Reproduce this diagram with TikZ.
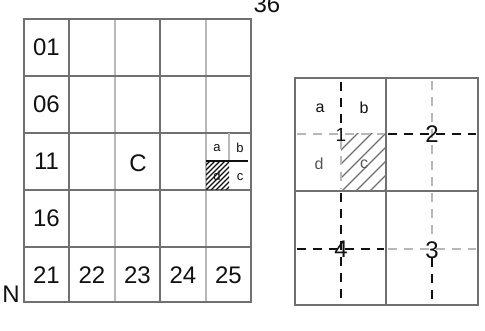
\documentclass[tikz,border=0pt]{standalone}
\usepackage{fontspec}
\setmainfont{Liberation Sans}
\usepackage{xcolor}
\usepackage{tikz}
\usetikzlibrary{positioning}
\definecolor{trait}{HTML}{707070}
\definecolor{traitclair}{HTML}{B8B8B8}
\definecolor{encre}{HTML}{111111}
\definecolor{grismoyen}{HTML}{555555}

\begin{document}
\begin{tikzpicture}[x=1pt, y=-1pt,
    chiffre/.style={font=\fontsize{24}{24}\selectfont, text=encre, inner sep=0pt},
    petit/.style={font=\fontsize{13}{13}\selectfont, text=encre, inner sep=0pt},
    moyen/.style={font=\fontsize{16}{16}\selectfont, text=encre, inner sep=0pt},
    tiret/.style={dash pattern=on 9pt off 7pt, line width=1.3pt}]
    \useasboundingbox (0,0) rectangle (485,331);
    % Grille de gauche
    \foreach \x/\c in {69/trait, 115/traitclair, 160/trait, 206/traitclair}
      \draw[\c, line width=1.3pt] (\x,19) -- (\x,302);
    \foreach \y in {76,133,190,247}
      \draw[trait, line width=1.3pt] (24,\y) -- (251,\y);
    \draw[trait, line width=1.5pt] (24,19) rectangle (251,302);
    % Numeros : nom, x, y, texte
    \foreach \nom/\x/\y/\lab in {c01/46.5/47.5/01, c06/46.5/104.5/06, c11/46.5/161.5/11,
      c16/46.5/218.5/16, c21/46.5/275/21, c22/92/275/22, c23/137.5/275/23,
      c24/183/275/24, c25/228.5/275/25, bloc/138/163/C}
      \node[chiffre] (\nom) at (\x,\y) {\lab};
    \node[chiffre, anchor=base] (nord) at (11,302) {N};
    \node[chiffre, anchor=base] (page) at (267,13) {36};
    % Sous-carreau de gauche
    \draw[traitclair, line width=1.2pt] (229,133) -- (229,161);
    \begin{scope}
      \clip (206,161) rectangle (229,190);
      \foreach \i in {0,...,11}
        \draw[encre, line width=1.1pt] (176+\i*5,190) -- ++(32,-32);
    \end{scope}
    \draw[encre, line width=1.2pt] (206,161) -- (248,161);
    \foreach \nom/\x/\y/\lab in {sa/217/148/a, sb/240/148/b, sd/217/176/d, sc/240/177/c}
      \node[petit] (\nom) at (\x,\y) {\lab};
    % Grille de droite
    \begin{scope}
      \clip (341,134) rectangle (386,191);
      \foreach \i in {0,...,7}
        \draw[trait, line width=1.1pt] (300+\i*14,191) -- ++(60,-60);
    \end{scope}
    \draw[trait, line width=1.3pt] (386,78) -- (386,305);
    \draw[trait, line width=1.3pt] (295,191) -- (478,191);
    \draw[trait, line width=1.5pt] (295,78) rectangle (478,305);
    % Tirets des quarts
    \draw[tiret, encre] (341,82) -- (341,130);
    \draw[tiret, traitclair] (341,140) -- (341,189);
    \draw[tiret, traitclair] (297,134) -- (384,134);
    \draw[tiret, encre] (388,134) -- (476,134);
    \draw[tiret, traitclair] (432,81) -- (432,189);
    \draw[tiret, encre] (297,249) -- (384,249);
    \draw[tiret, encre] (341,193) -- (341,303);
    \draw[tiret, traitclair] (388,249) -- (476,249);
    \draw[tiret, traitclair] (432,193) -- (432,240);
    \draw[tiret, encre] (432,258) -- (432,303);
    \foreach \nom/\x/\y/\lab in {q2/432/134/2, q4/341/249/4, q3/432/250/3}
      \node[chiffre] (\nom) at (\x,\y) {\lab};
    \node[moyen, font=\fontsize{19}{19}\selectfont] (q1) at (341,135) {1};
    \foreach \nom/\x/\y/\lab/\c in {ra/320/108/a/encre, rb/364/108/b/encre,
      rd/319/164/d/grismoyen, rc/364/164/c/grismoyen}
      \node[moyen, text=\c] (\nom) at (\x,\y) {\lab};
  \end{tikzpicture}
\end{document}
